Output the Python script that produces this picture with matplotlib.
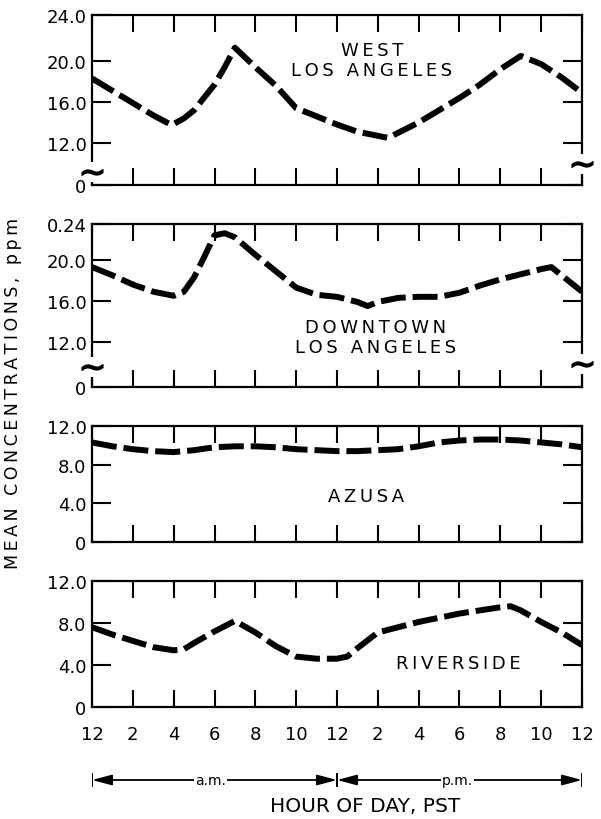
import matplotlib
matplotlib.use("Agg")
import matplotlib.pyplot as plt

plt.rcParams["font.family"] = ["DejaVu Sans"]
plt.rcParams["lines.scale_dashes"] = False

# ---- data: mean hourly concentrations (ppm) ----
hours_west = [0, 1, 2, 3, 3.9, 4.5, 5, 6, 6.5, 7, 8, 9, 10, 11, 12, 13, 14, 14.5,
              15, 16, 17, 18, 19, 20, 21, 22, 23, 24]
conc_west = [18.3, 17.1, 15.9, 14.7, 13.75, 14.4, 15.2, 17.7, 19.4, 21.3, 19.4, 17.6,
             15.4, 14.6, 13.8, 13.1, 12.7, 12.5, 13.0, 14.0, 15.2, 16.4, 17.7, 19.2,
             20.5, 19.7, 18.4, 16.9]

hours_down = [0, 1, 2, 3, 4, 4.5, 5, 5.5, 6, 6.5, 7, 8, 9, 10, 11, 12, 13, 13.5, 14,
              15, 16, 17, 18, 19, 20, 21, 22, 22.5, 23, 24]
conc_down = [19.3, 18.5, 17.6, 16.9, 16.5, 16.9, 18.3, 20.3, 22.4, 22.6, 22.2, 20.5,
             18.9, 17.3, 16.6, 16.4, 15.9, 15.5, 15.9, 16.3, 16.4, 16.4, 16.8, 17.5,
             18.1, 18.6, 19.1, 19.3, 18.5, 16.9]

hours_azusa = list(range(25))
conc_azusa = [10.3, 9.9, 9.6, 9.4, 9.3, 9.5, 9.8, 9.9, 9.9, 9.8, 9.6, 9.5, 9.4, 9.4,
              9.5, 9.6, 9.9, 10.3, 10.5, 10.6, 10.6, 10.5, 10.3, 10.1, 9.8]

hours_river = [0, 1, 2, 3, 4, 4.5, 5, 6, 7, 8, 9, 10, 11, 12, 12.5, 13, 14, 15, 16,
               17, 18, 19, 20, 20.5, 21, 22, 23, 24]
conc_river = [7.6, 6.9, 6.3, 5.7, 5.4, 5.5, 6.1, 7.2, 8.2, 7.1, 5.8, 4.8, 4.6, 4.6,
              4.8, 5.6, 7.1, 7.6, 8.1, 8.5, 8.9, 9.2, 9.5, 9.6, 9.2, 8.1, 7.1, 5.9]

hour_ticks = list(range(0, 25, 2))
hour_labels = ["12", "2", "4", "6", "8", "10", "12", "2", "4", "6", "8", "10", "12"]
period_bounds = [0, 12, 24]
period_names = ["a.m.", "p.m."]
period_label_hours = [5.8, 17.9]

W, H = 601, 820
LEFT, RIGHT = 92, 582

fig = plt.figure(figsize=(W / 100, H / 100), dpi=100)


def spaced(s):
    return "\u2009".join(s)


def add_panel(top_px, bot_px):
    ax = fig.add_axes([LEFT / W, (H - bot_px) / H, (RIGHT - LEFT) / W,
                       (bot_px - top_px) / H])
    ax.set_xlim(0, 24)
    ax.set_xticks(hour_ticks)
    ax.set_xticklabels([])
    ax.tick_params(axis="x", direction="in", top=True, bottom=True,
                   length=12, width=1.5, pad=13, labelsize=13)
    ax.tick_params(axis="y", direction="in", left=True, right=True,
                   length=14, width=1.5, pad=4, labelsize=13)
    for sp in ax.spines.values():
        sp.set_linewidth(1.6)
    return ax


def draw_series(ax, hrs, vals):
    ax.plot(hrs, vals, color="black", lw=4.3, linestyle=(0, (18, 5)),
            dash_capstyle="butt", solid_capstyle="butt", zorder=3)


def break_mark(ax, xf, yf):
    ax.plot([xf], [yf], transform=ax.transAxes, marker="|", ms=15, mew=7,
            color="white", clip_on=False, zorder=6)
    ax.plot([xf], [yf], transform=ax.transAxes, marker=r"$\sim$", ms=15,
            color="black", clip_on=False, zorder=7)


# West Los Angeles
ax1 = add_panel(16, 186)
lo1, hi1 = 7.90, 24.49
ax1.set_ylim(lo1, hi1)
ax1.set_yticks([lo1, 12, 16, 20, hi1])
ax1.set_yticklabels(["0", "12.0", "16.0", "20.0", "24.0"])
draw_series(ax1, hours_west, conc_west)
ax1.text(13.7, 20.1, spaced("WEST") + "\n" + spaced("LOS ANGELES"), ha="center",
         va="center", fontsize=13, linespacing=1.1)
break_mark(ax1, 0.0, 0.076)
break_mark(ax1, 1.0, 0.124)

# Downtown Los Angeles
ax2 = add_panel(225, 388)
lo2, hi2 = 7.61, 23.5
ax2.set_ylim(lo2, hi2)
ax2.set_yticks([lo2, 12, 16, 20, hi2])
ax2.set_yticklabels(["0", "12.0", "16.0", "20.0", "0.24"])
draw_series(ax2, hours_down, conc_down)
ax2.text(13.9, 12.5, spaced("DOWNTOWN") + "\n" + spaced("LOS ANGELES"), ha="center",
         va="center", fontsize=13, linespacing=1.1)
break_mark(ax2, 0.0, 0.123)
break_mark(ax2, 1.0, 0.141)

# Azusa
ax3 = add_panel(427, 543)
ax3.set_ylim(0, 12)
ax3.set_yticks([0, 4, 8, 12])
ax3.set_yticklabels(["0", "4.0", "8.0", "12.0"])
draw_series(ax3, hours_azusa, conc_azusa)
ax3.text(13.4, 4.8, spaced("AZUSA"), ha="center", va="center", fontsize=13)

# Riverside
ax4 = add_panel(582, 708)
ax4.set_ylim(0, 12)
ax4.set_yticks([0, 4, 8, 12])
ax4.set_yticklabels(["0", "4.0", "8.0", "12.0"])
ax4.set_xticklabels(hour_labels)
draw_series(ax4, hours_river, conc_river)
ax4.text(17.95, 4.15, spaced("RIVERSIDE"), ha="center", va="center", fontsize=13)

# a.m. / p.m. span arrows
axa = fig.add_axes([LEFT / W, (H - 781 - 12) / H, (RIGHT - LEFT) / W, 24 / H])
axa.set_xlim(0, 24)
axa.set_ylim(-1.5, 1.5)
axa.axis("off")
for b in period_bounds:
    axa.plot([b, b], [-0.9, 0.9], color="black", lw=1.4, solid_capstyle="butt")
for i, name in enumerate(period_names):
    axa.annotate("", xy=(period_bounds[i], 0), xytext=(period_bounds[i + 1], 0),
                 arrowprops=dict(arrowstyle="<|-|>,head_length=1.2,head_width=0.32",
                                 mutation_scale=10, lw=1.3, color="black",
                                 shrinkA=0, shrinkB=0))
    axa.text(period_label_hours[i], 0.05, name, ha="center", va="center", fontsize=10,
             bbox=dict(facecolor="white", edgecolor="none", pad=1.0))

fig.text(365 / W, (H - 807) / H, "HOUR OF DAY, PST", ha="center",
         va="center", fontsize=14.5)
fig.text(13 / W, (H - 393) / H, spaced("MEAN CONCENTRATIONS, ppm"), rotation=90,
         ha="center", va="center", fontsize=12.5)

fig.savefig("out.png", dpi=100, facecolor="white")
